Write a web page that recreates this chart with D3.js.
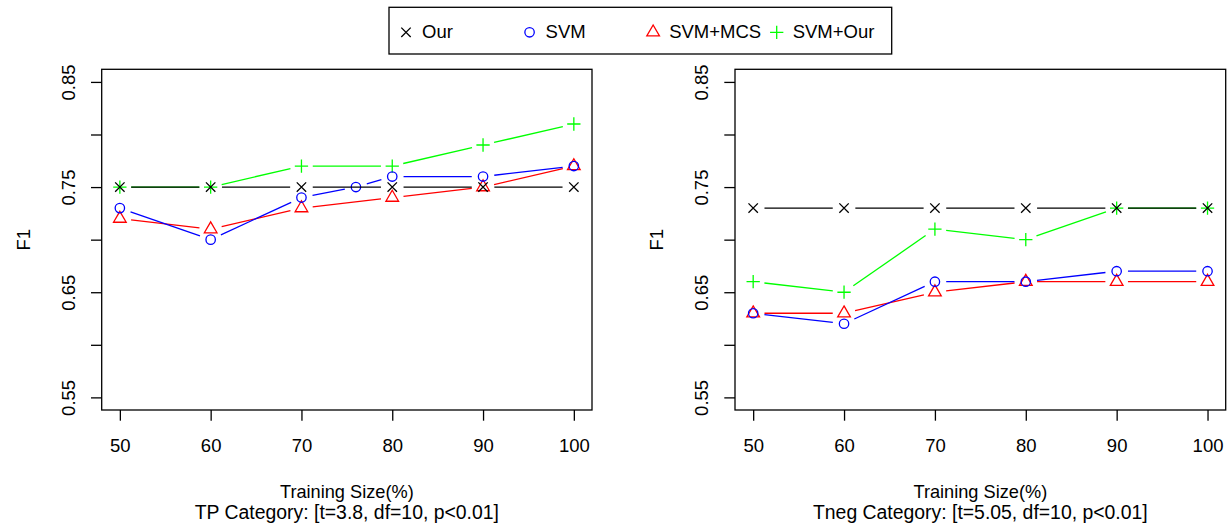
<!DOCTYPE html>
<meta charset="utf-8">
<div id="area"></div>
<script src="https://d3js.org/d3.v7.min.js"></script>
<style>
  body { margin: 0; background: #fff; font-family: "Liberation Sans", Arial, Helvetica, sans-serif; }
  text { font-size: 18.5px; fill: #000; }
</style>
<script>
// data
var sizes = [50, 60, 70, 80, 90, 100];
var svmSizesTP = [50, 60, 70, 76, 80, 90, 100];
var xTicks = [50, 60, 70, 80, 90, 100];
var yTicks = [0.55, 0.60, 0.65, 0.70, 0.75, 0.80, 0.85];
var yTickLabels = ["0.55", "", "0.65", "", "0.75", "", "0.85"];
var seriesNames = ["Our", "SVM", "SVM+MCS", "SVM+Our"];

var ourTP    = [0.75, 0.75, 0.75, 0.75, 0.75, 0.75];
var svmTP    = [0.73, 0.70, 0.74, 0.75, 0.76, 0.76, 0.77];
var svmMcsTP = [0.72, 0.71, 0.73, 0.74, 0.75, 0.77];
var svmOurTP = [0.75, 0.75, 0.77, 0.77, 0.79, 0.81];

var ourTneg    = [0.73, 0.73, 0.73, 0.73, 0.73, 0.73];
var svmTneg    = [0.63, 0.62, 0.66, 0.66, 0.67, 0.67];
var svmMcsTneg = [0.63, 0.63, 0.65, 0.66, 0.66, 0.66];
var svmOurTneg = [0.66, 0.65, 0.71, 0.70, 0.73, 0.73];

var colors = {"Our": "#000000", "SVM": "#0000ff", "SVM+MCS": "#ff0000", "SVM+Our": "#00ff00"};
var shapes = {"Our": "x", "SVM": "circle", "SVM+MCS": "triangle", "SVM+Our": "plus"};

var W = 1228, H = 527;
var svg = d3.select("#area").append("svg").attr("width", W).attr("height", H);

var R = 4.7, GAP = 11.3, LW = 1.3;

function drawSymbol(g, shape, cx, cy, color) {
  if (shape == "circle") {
    g.append("circle").attr("cx", cx).attr("cy", cy).attr("r", R)
      .attr("fill", "none").attr("stroke", color).attr("stroke-width", LW);
  } else if (shape == "x") {
    g.append("path").attr("d", "M" + (cx - R) + "," + (cy - R) + "L" + (cx + R) + "," + (cy + R) +
        "M" + (cx - R) + "," + (cy + R) + "L" + (cx + R) + "," + (cy - R))
      .attr("stroke", color).attr("stroke-width", LW).attr("fill", "none");
  } else if (shape == "plus") {
    var p = R * Math.SQRT2;
    g.append("path").attr("d", "M" + (cx - p) + "," + cy + "L" + (cx + p) + "," + cy +
        "M" + cx + "," + (cy - p) + "L" + cx + "," + (cy + p))
      .attr("stroke", color).attr("stroke-width", LW).attr("fill", "none");
  } else {
    var r = 1.5551 * R, xc = r * Math.sqrt(3) / 2, yc = r / 2;
    g.append("path").attr("d", "M" + cx + "," + (cy - r) + "L" + (cx + xc) + "," + (cy + yc) +
        "L" + (cx - xc) + "," + (cy + yc) + "Z")
      .attr("stroke", color).attr("stroke-width", LW).attr("fill", "none");
  }
}

var panels = [
  {left: 101.7, right: 592, sub: "TP Category: [t=3.8, df=10, p<0.01]",
   series: [
     {name: "SVM+Our", xs: sizes, ys: svmOurTP},
     {name: "SVM+MCS", xs: sizes, ys: svmMcsTP},
     {name: "SVM", xs: svmSizesTP, ys: svmTP},
     {name: "Our", xs: sizes, ys: ourTP}
   ]},
  {left: 735, right: 1225.7, sub: "Tneg Category: [t=5.05, df=10, p<0.01]",
   series: [
     {name: "SVM+Our", xs: sizes, ys: svmOurTneg},
     {name: "SVM+MCS", xs: sizes, ys: svmMcsTneg},
     {name: "SVM", xs: sizes, ys: svmTneg},
     {name: "Our", xs: sizes, ys: ourTneg}
   ]}
];

var plotTop = 69.3, plotBottom = 410;

panels.forEach(function(p) {
  var x = d3.scaleLinear().domain([48, 102]).range([p.left, p.right]);
  var y = d3.scaleLinear().domain([0.538, 0.862]).range([plotBottom, plotTop]);
  var g = svg.append("g");

  // X axis
  var xa = g.append("g").attr("transform", "translate(0," + plotBottom + ")")
    .call(d3.axisBottom(x).tickValues(xTicks).tickSize(10.7).tickFormat(d3.format("d")));
  xa.select(".domain").remove();
  xa.selectAll("line").attr("stroke", "#000").attr("stroke-width", LW);
  xa.selectAll("text").attr("y", 42).attr("dy", 0)
    .style("font-size", "18.5px").style("font-family", "inherit").attr("fill", "#000");

  // Y axis
  var ya = g.append("g").attr("transform", "translate(" + p.left + ",0)")
    .call(d3.axisLeft(y).tickValues(yTicks).tickSize(10.7)
      .tickFormat(function(d, i) { return yTickLabels[i]; }));
  ya.select(".domain").remove();
  ya.selectAll("line").attr("stroke", "#000").attr("stroke-width", LW);
  ya.selectAll("text").attr("x", 0).attr("dy", 0).attr("text-anchor", "middle")
    .attr("transform", "translate(-27,0) rotate(-90)")
    .style("font-size", "18.5px").style("font-family", "inherit").attr("fill", "#000");

  // axis titles
  var cx = (p.left + p.right) / 2;
  g.append("text").attr("x", cx).attr("y", 497.5).attr("text-anchor", "middle")
    .style("font-size", "18.2px").text("Training Size(%)");
  g.append("text").attr("x", cx).attr("y", 518.5).attr("text-anchor", "middle")
    .style("font-size", "19.4px").text(p.sub);
  g.append("text").attr("text-anchor", "middle")
    .attr("transform", "translate(" + (p.left - 72) + "," + ((plotTop + plotBottom) / 2) + ") rotate(-90)")
    .text("F1");

  // series: lines with gaps (type = "b") and symbols
  p.series.forEach(function(s) {
    var col = colors[s.name];
    var pts = s.xs.map(function(v, i) { return [x(v), y(s.ys[i])]; });
    for (var i = 0; i < pts.length - 1; i++) {
      var a = pts[i], b = pts[i + 1];
      var dx = b[0] - a[0], dy = b[1] - a[1], d = Math.sqrt(dx * dx + dy * dy);
      if (d <= 2 * GAP) continue;
      var ux = dx / d, uy = dy / d;
      g.append("line")
        .attr("x1", a[0] + ux * GAP).attr("y1", a[1] + uy * GAP)
        .attr("x2", b[0] - ux * GAP).attr("y2", b[1] - uy * GAP)
        .attr("stroke", col).attr("stroke-width", LW);
    }
    pts.forEach(function(pt) { drawSymbol(g, shapes[s.name], pt[0], pt[1], col); });
  });

  // box
  g.append("rect").attr("x", p.left).attr("y", plotTop)
    .attr("width", p.right - p.left).attr("height", plotBottom - plotTop)
    .attr("fill", "none").attr("stroke", "#000").attr("stroke-width", LW);
});

// legend
var lg = svg.append("g");
lg.append("rect").attr("x", 389).attr("y", 7.3).attr("width", 502.7).attr("height", 46.7)
  .attr("fill", "#fff").attr("stroke", "#000").attr("stroke-width", LW);
var legendX = d3.scalePoint().domain(seriesNames).range([406, 776.7]);
seriesNames.forEach(function(n) {
  drawSymbol(lg, shapes[n], legendX(n), 32.3, colors[n]);
  lg.append("text").attr("x", legendX(n) + 16).attr("y", 38.3).text(n);
});
</script>
